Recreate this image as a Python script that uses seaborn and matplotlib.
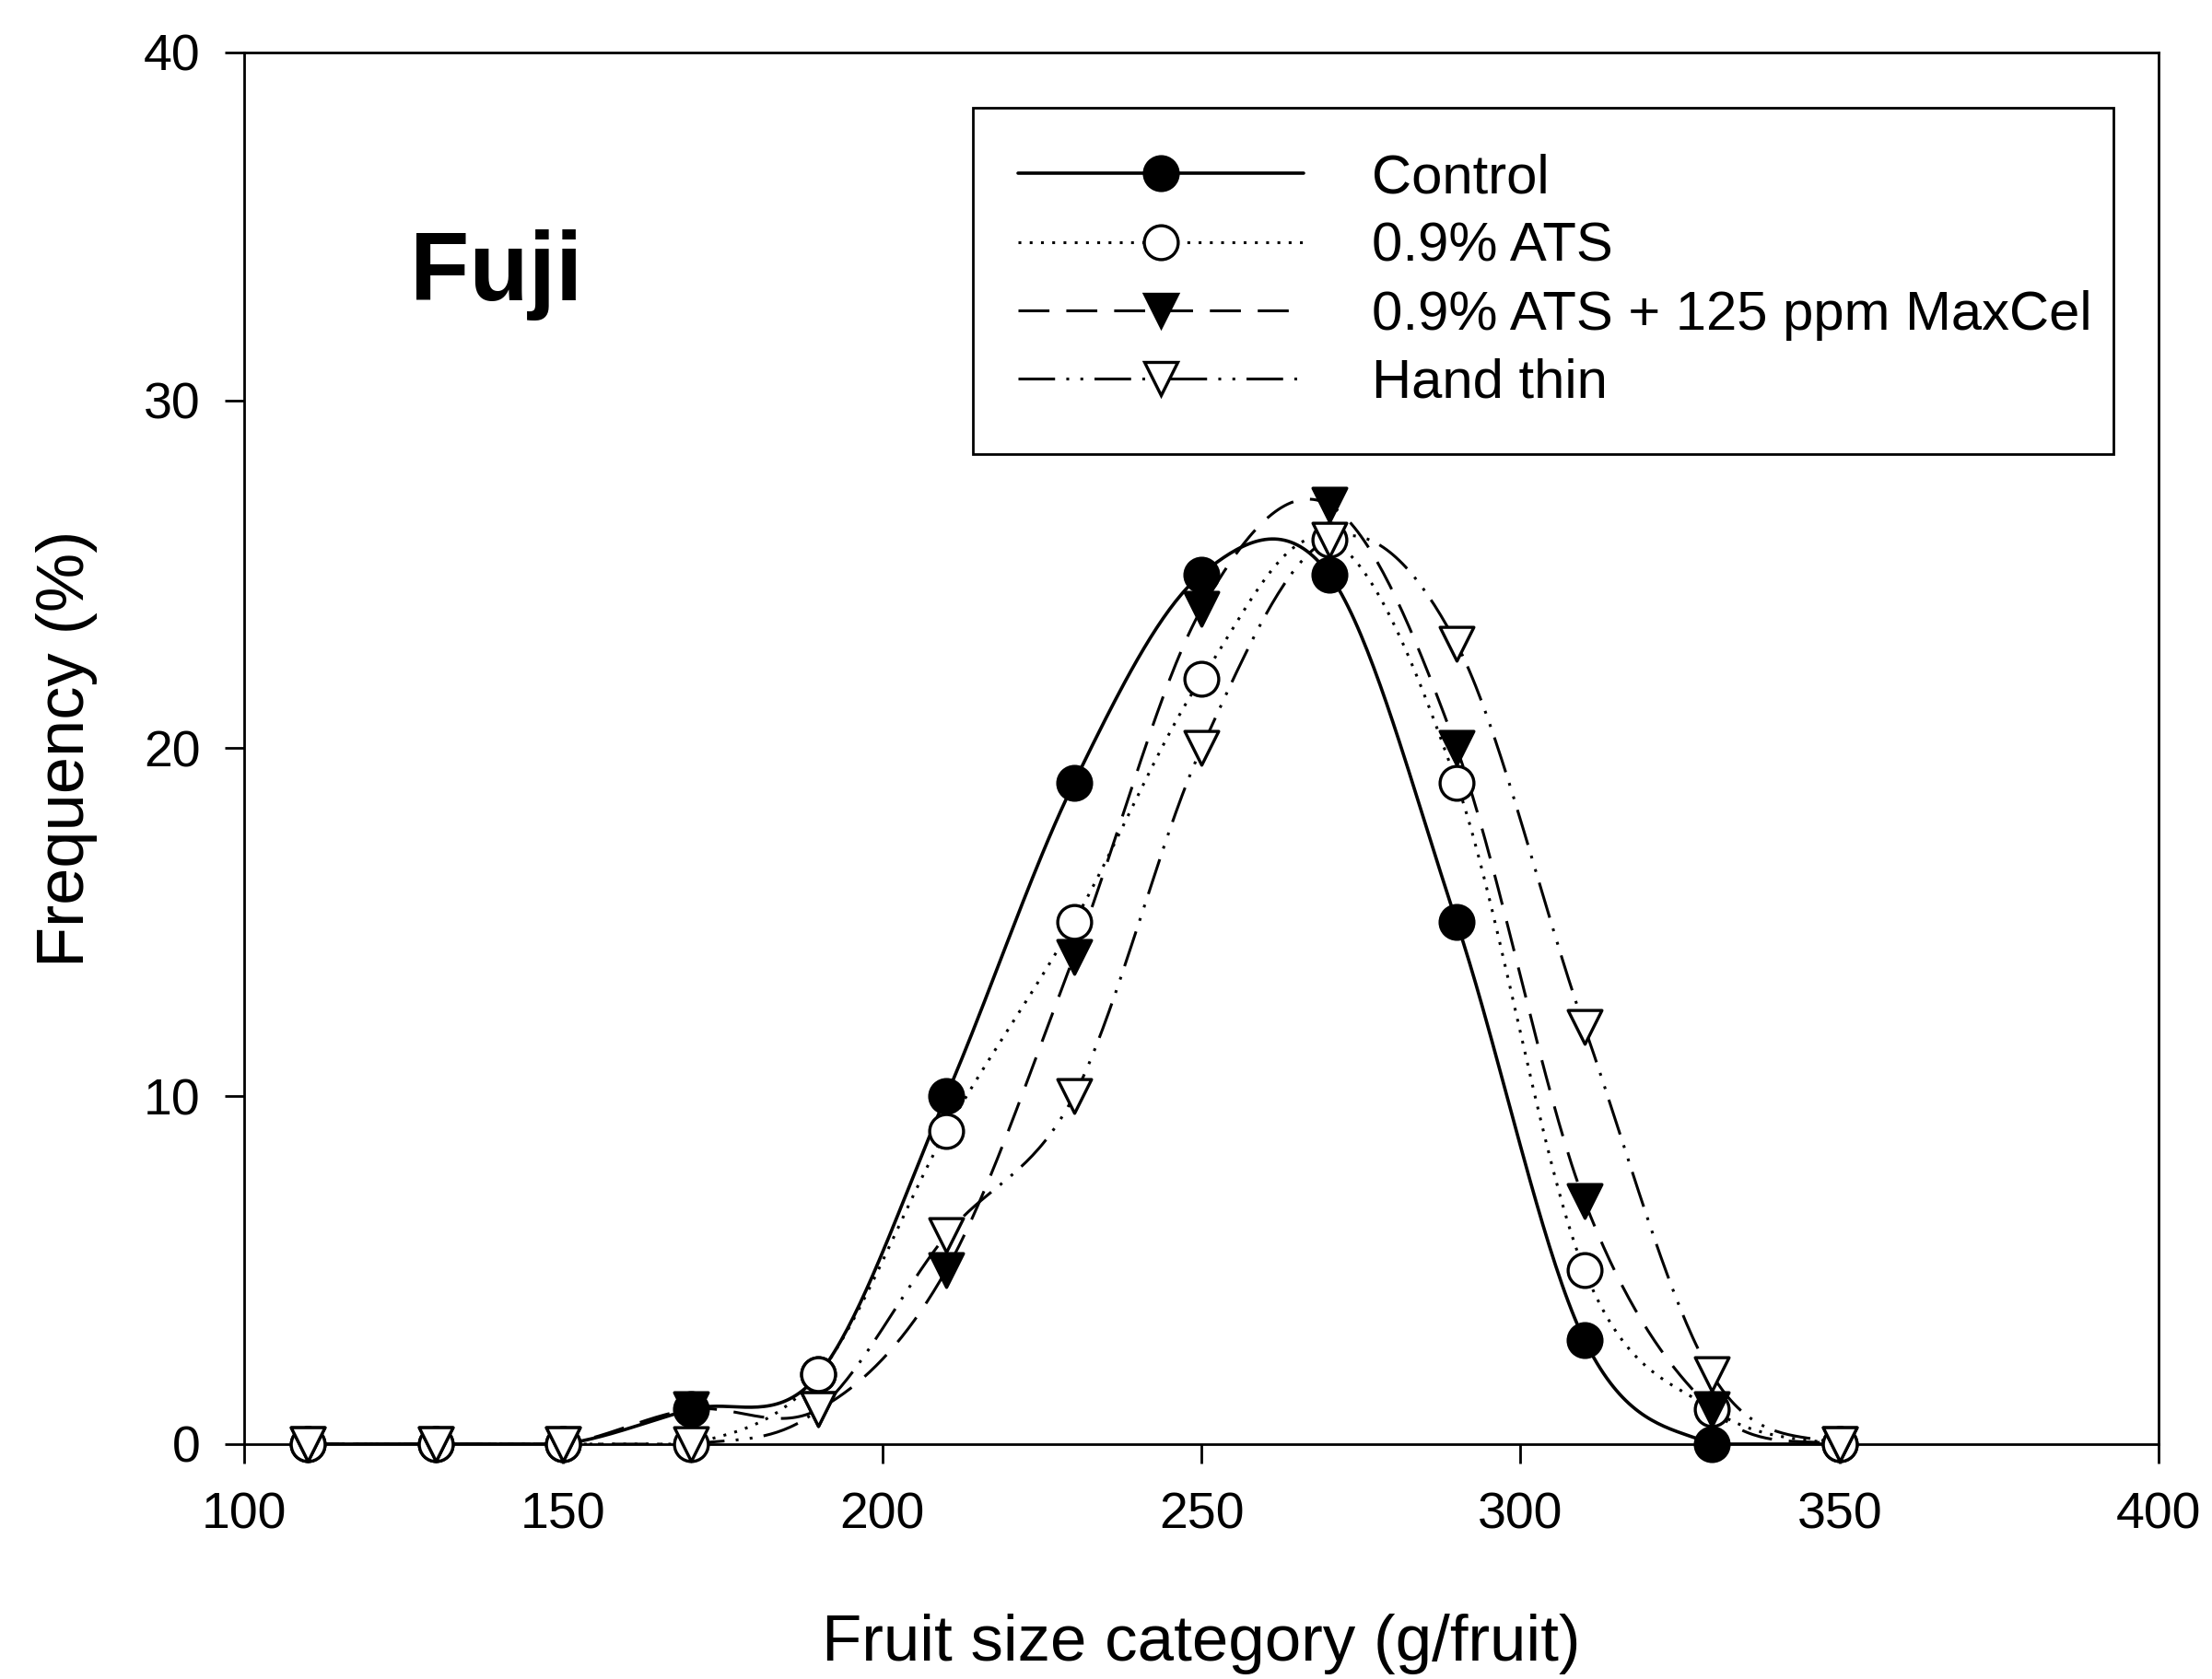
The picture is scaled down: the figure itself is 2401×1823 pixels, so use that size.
import numpy as np
import pandas as pd
import matplotlib
matplotlib.use("Agg")
import matplotlib.pyplot as plt
from matplotlib.lines import Line2D
import seaborn as sns

# fruit size categories (g/fruit)
sizes = [110, 130, 150, 170, 190, 210, 230, 250, 270, 290, 310, 330, 350]

control = [0, 0, 0, 1, 2, 10, 19, 25, 25, 15, 3, 0, 0]
ats = [0, 0, 0, 0, 2, 9, 15, 22, 26, 19, 5, 1, 0]
ats_maxcel = [0, 0, 0, 1, 1, 5, 14, 24, 27, 20, 7, 1, 0]
hand_thin = [0, 0, 0, 0, 1, 6, 10, 20, 26, 23, 12, 2, 0]

labels = ["Control", "0.9% ATS", "0.9% ATS + 125 ppm MaxCel", "Hand thin"]
x_ticks = [100, 150, 200, 250, 300, 350, 400]
y_ticks = [0, 10, 20, 30, 40]


def smooth(x, y, n=40):
    # catmull-rom curve through the points, like the sigmaplot spline
    x = np.asarray(x, float)
    y = np.asarray(y, float)
    xp = np.concatenate([[2 * x[0] - x[1]], x, [2 * x[-1] - x[-2]]])
    yp = np.concatenate([[y[0]], y, [y[-1]]])
    xs, ys = [], []
    for i in range(1, len(xp) - 2):
        t = np.linspace(0, 1, n, endpoint=False)
        p0, p1, p2, p3 = yp[i - 1], yp[i], yp[i + 1], yp[i + 2]
        yy = 0.5 * ((2 * p1) + (-p0 + p2) * t + (2 * p0 - 5 * p1 + 4 * p2 - p3) * t ** 2
                    + (-p0 + 3 * p1 - 3 * p2 + p3) * t ** 3)
        xx = xp[i] + (xp[i + 1] - xp[i]) * t
        xs.append(xx)
        ys.append(yy)
    xs.append([x[-1]])
    ys.append([y[-1]])
    return np.concatenate(xs), np.clip(np.concatenate(ys), 0, None)


sns.set_style("ticks")
plt.rcParams['font.family'] = ['Liberation Sans', 'DejaVu Sans']
plt.rcParams['text.color'] = 'black'
plt.rcParams['axes.labelcolor'] = 'black'
plt.rcParams['xtick.color'] = 'black'
plt.rcParams['ytick.color'] = 'black'

fig = plt.figure(figsize=(24.01, 18.23), dpi=100)
ax = fig.add_axes([0.1104, 0.1399, 0.8655, 0.8289])

series = [control, ats, ats_maxcel, hand_thin]
styles = ['-', (0, (1, 3.0)), (0, (11, 6)), (0, (13, 4, 1, 4, 1, 4))]
widths = [2.6, 2.2, 2.2, 2.2]
markers = ['o', 'o', 'v', 'v']
faces = ['black', 'white', 'black', 'white']

for i, vals in enumerate(series):
    xs, ys = smooth(sizes, vals)
    sns.lineplot(x=xs, y=ys, ax=ax, color='black', linewidth=widths[i],
                 linestyle=styles[i], sort=False, zorder=2 + i)
for i, vals in enumerate(series):
    sns.scatterplot(x=sizes, y=vals, ax=ax, marker=markers[i], s=700,
                    facecolor=faces[i], edgecolor='black', linewidth=2.4,
                    zorder=10 + i, clip_on=False)

ax.set_xlim(100, 400)
ax.set_ylim(0, 40)
ax.set_xticks(x_ticks)
ax.set_yticks(y_ticks)
ax.tick_params(direction='out', length=15, width=2.0, labelsize=40, color='black')
ax.tick_params(axis='x', pad=22)
ax.tick_params(axis='y', pad=19)
for sp in ax.spines.values():
    sp.set_visible(True)
    sp.set_linewidth(2.0)
    sp.set_color('black')

ax.set_xlabel("Fruit size category (g/fruit)", fontsize=51, labelpad=58)
ax.set_ylabel("Frequency (%)", fontsize=52, labelpad=36)

ax.text(126, 33.6, "Fuji", fontsize=76, fontweight='bold', ha='left', va='center')

handles = [Line2D([], [], color='black', linewidth=widths[i], linestyle=styles[i],
                  marker=markers[i], markersize=26.5, markerfacecolor=faces[i],
                  markeredgecolor='black', markeredgewidth=2.4)
           for i in range(4)]
leg = ax.legend(handles, labels, loc='upper left', bbox_to_anchor=(0.3807, 0.960, 0.5957, 0.0),
                mode='expand', fontsize=43, frameon=True, fancybox=False, numpoints=1,
                handlelength=5.18, handletextpad=1.25, labelspacing=0.32, borderpad=0.82,
                borderaxespad=0)
leg.get_frame().set_edgecolor('black')
leg.get_frame().set_linewidth(2.0)
leg.get_frame().set_alpha(1)

fig.savefig("out.png", dpi=100, facecolor='white')
